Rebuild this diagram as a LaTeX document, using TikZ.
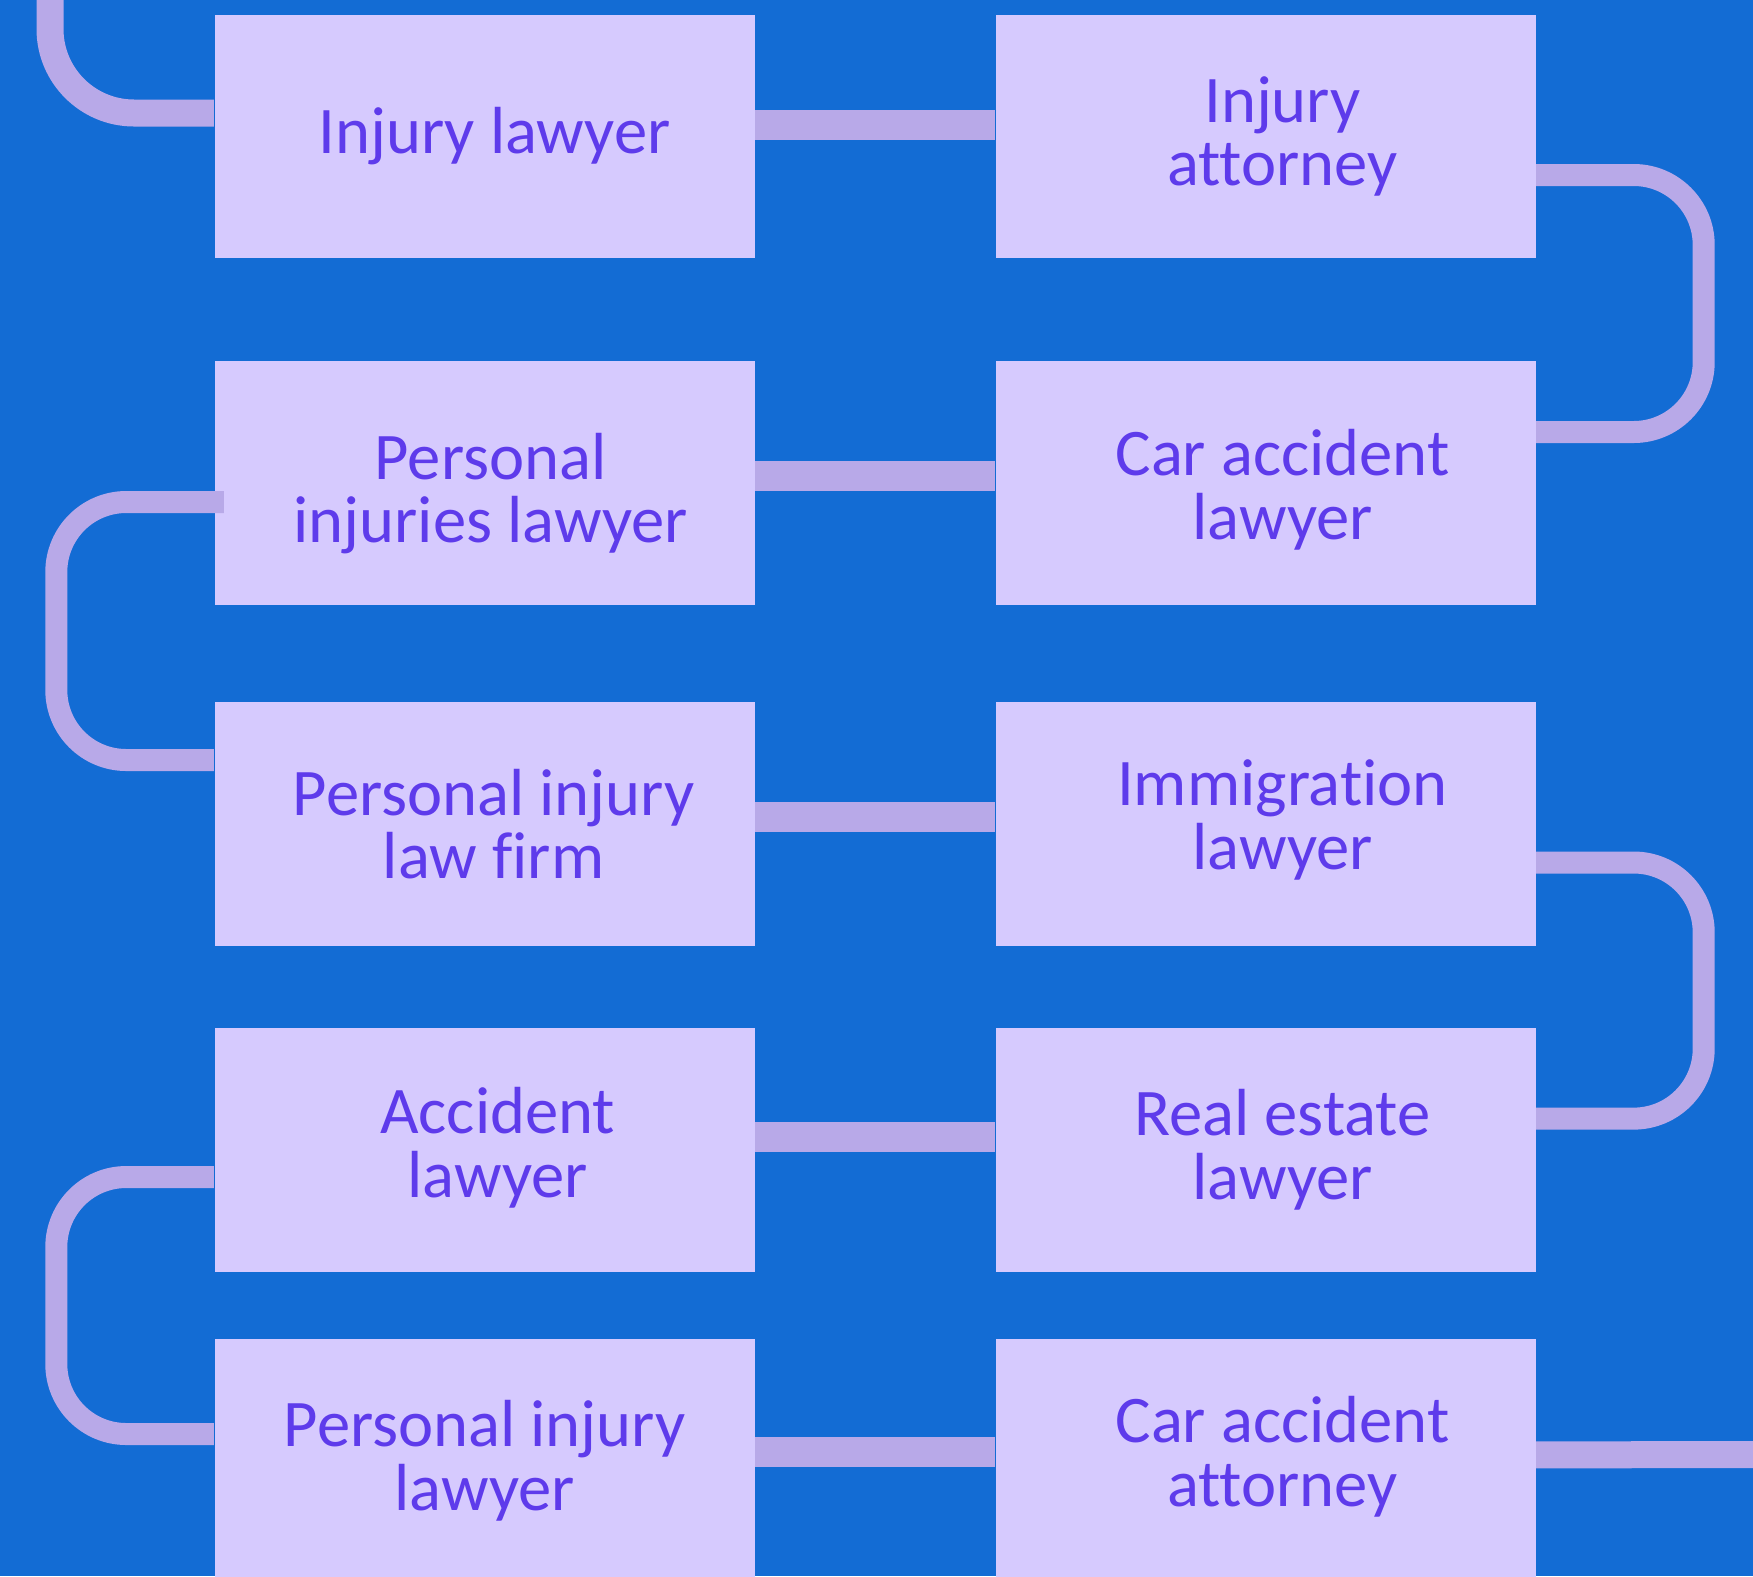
\documentclass[tikz,border=0pt]{standalone}
\usepackage{fontspec}
\setmainfont{Carlito}[Ligatures={NoCommon}]
\usepackage{xcolor}
\usetikzlibrary{positioning}
\definecolor{bgblue}{HTML}{136CD4}
\definecolor{boxfill}{HTML}{D6CAFE}
\definecolor{boxtext}{HTML}{5E3BEB}
\definecolor{linkcol}{HTML}{B8A9E8}

\begin{document}
\begin{tikzpicture}[
    x=1mm, y=1mm,
    % GLOBAL CFG
    font=\fontsize{18.95}{18.1}\selectfont,
    % Styles
    kw/.style={% For the keyword boxes
        rectangle,
        fill=boxfill,
        minimum width=54mm,
        minimum height=24.35mm,
        inner sep=0pt,
        },
    kwtext/.style={% For the text in the boxes
        text=boxtext,
        align=center,
        inner sep=0pt,
        },
    rowlink/.style={% Straight links from one column to the other
        draw=linkcol,
        line width=3mm,
        },
    sidelink/.style={% U-turns on the sides
        draw=linkcol,
        line width=2.2mm,
        rounded corners=7mm,
        },
    endlink/.style={% Links that leave the picture
        draw=linkcol,
        line width=2.7mm,
        rounded corners=8.4mm,
        },
    ]

    % Background and size
    \fill[bgblue] (0,0) rectangle (175.3,-157.6);
    \useasboundingbox (0,0) rectangle (175.3,-157.6);

    % Draw the keyword boxes, named kw# in reading order
    \node [kw, label={[kwtext, xshift=1.0mm]center:Injury lawyer}] (kw1) at (48.47,-13.65) {};
    \node [kw, label={[kwtext, xshift=1.7mm]center:Injury\\attorney}] (kw2) at (126.55,-13.65) {};
    \node [kw, label={[kwtext, xshift=1.7mm, yshift=-0.7mm]center:Car accident\\lawyer}] (kw3) at (126.55,-48.3) {};
    \node [kw, label={[kwtext, xshift=0.6mm, yshift=-1.05mm]center:Personal\\injuries lawyer}] (kw4) at (48.47,-48.3) {};
    \node [kw, label={[kwtext, xshift=0.9mm]center:Personal injury\\law firm}] (kw5) at (48.47,-82.4) {};
    \node [kw, label={[kwtext, xshift=1.7mm, yshift=0.4mm]center:Immigration\\lawyer}] (kw6) at (126.55,-82.4) {};
    \node [kw, label={[kwtext, xshift=1.7mm]center:Real estate\\lawyer}] (kw7) at (126.55,-115.0) {};
    \node [kw, label={[kwtext, xshift=1.3mm, yshift=0.2mm]center:Accident\\lawyer}] (kw8) at (48.47,-115.0) {};
    \node [kw, label={[kwtext]center:Personal injury\\lawyer}] (kw9) at (48.47,-146.08) {};
    \node [kw, label={[kwtext, xshift=1.7mm, yshift=0.4mm]center:Car accident\\attorney}] (kw10) at (126.55,-146.08) {};

    % Loose ends
    \coordinate (in) at (5.0,2);
    \coordinate (out) at (178,-145.46);

    % Start connecting all.
    \draw [endlink] (in) |- ([yshift=2.35mm]kw1.west);
    \draw [rowlink] ([yshift=1.15mm]kw1.east) -- ([yshift=1.15mm]kw2.west);
    \draw [sidelink] ([yshift=-3.85mm]kw2.east) -- ++(16.75,0) |- ([yshift=5.1mm]kw3.east);
    \draw [rowlink] ([yshift=0.7mm]kw3.west) -- ([yshift=0.7mm]kw4.east);
    \draw [sidelink] ([xshift=1mm,yshift=-1.9mm]kw4.west) -- ++(-16.77,0) |- ([yshift=6.4mm]kw5.west);
    \draw [rowlink] ([yshift=0.7mm]kw5.east) -- ([yshift=0.7mm]kw6.west);
    \draw [sidelink] ([yshift=-3.85mm]kw6.east) -- ++(16.75,0) |- ([yshift=3.14mm]kw7.east);
    \draw [rowlink] ([yshift=1.35mm]kw7.west) -- ([yshift=1.35mm]kw8.east);
    \draw [sidelink] ([yshift=-2.7mm]kw8.west) -- ++(-15.77,0) |- ([yshift=2.68mm]kw9.west);
    \draw [rowlink] ([yshift=0.9mm]kw9.east) -- ([yshift=0.9mm]kw10.west);
    \draw [endlink] ([yshift=0.6mm]kw10.east) -- (out);

\end{tikzpicture}
\end{document}
